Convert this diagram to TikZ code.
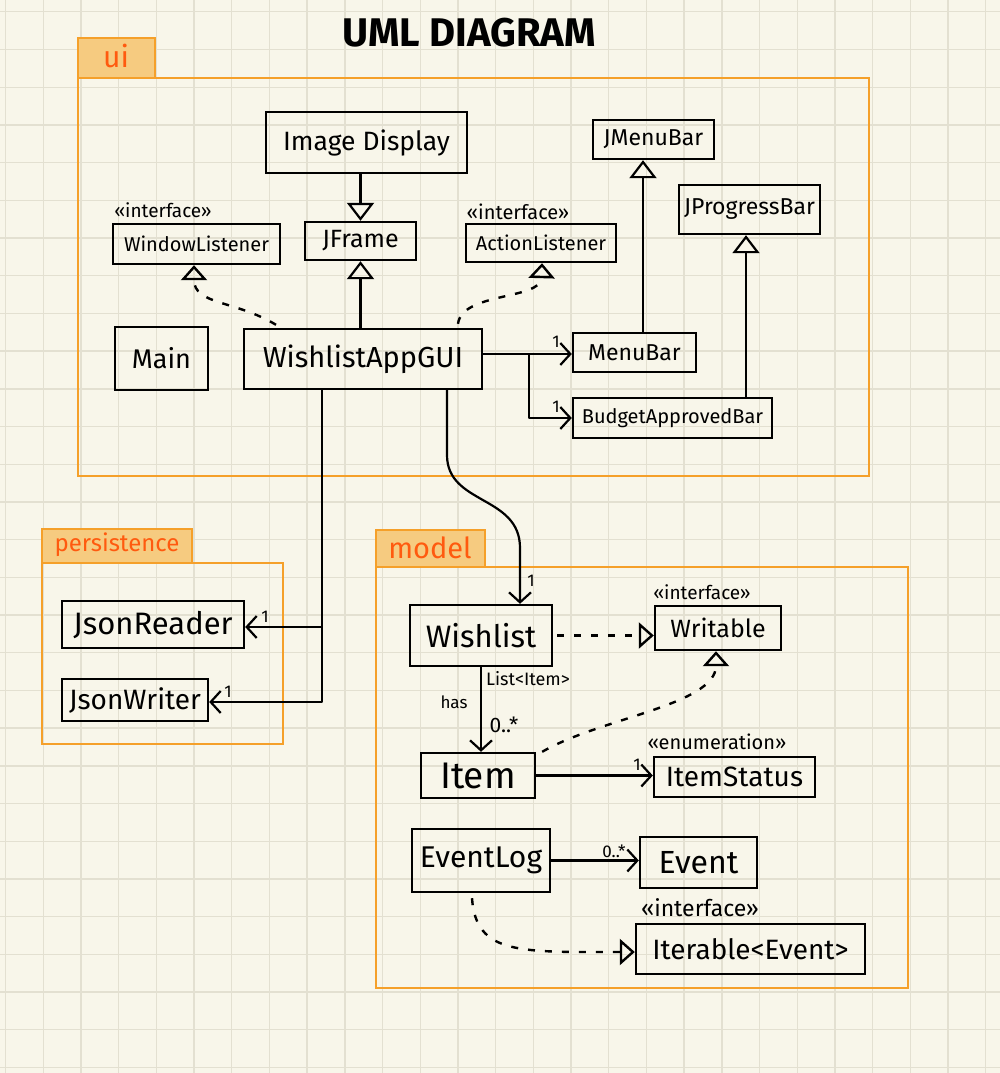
\documentclass[tikz,border=0pt]{standalone}
\usepackage{fontspec}
\setmainfont{Fira Sans}
\usetikzlibrary{arrows.meta}
\definecolor{bg}{HTML}{F8F6EA}
\definecolor{gridc}{HTML}{E3E0D1}
\definecolor{pkgline}{HTML}{F5A02A}
\definecolor{pkgfill}{HTML}{F6CB80}
\definecolor{pkgtext}{HTML}{FF5A0F}
\newcommand{\fsz}[1]{\fontsize{#1}{#1}\selectfont}
\begin{document}
\begin{tikzpicture}[x=1pt,y=-1pt,
  cls/.style={draw=black, line width=2.4pt, inner sep=0pt, align=center},
  gen/.style={line width=2.2pt, line join=round, -{Triangle[open,length=18pt,width=27pt]}},
  real/.style={line width=2.4pt, dash pattern=on 7pt off 10pt, -{Triangle[open,length=15pt,width=26pt]}},
  assoc/.style={line width=2.2pt, line join=round, -{Straight Barb[length=10pt,width=22pt]}},
  stereo/.style={inner sep=0pt},
  mult/.style={inner sep=0pt, font=\fsz{17}},
  pkg/.style={draw=pkgline, line width=2pt},
  tab/.style={draw=pkgline, fill=pkgfill, line width=2pt},
  pkglabel/.style={text=pkgtext, inner sep=0pt},
  gridline/.style={draw=gridc, line width=1.4pt}]
% background
\fill[bg] (0,0) rectangle (1000,1073);
\useasboundingbox (0,0) rectangle (1000,1073);
\foreach \i in {0,...,26} \draw[gridline] ({5.5+37.7*\i},0) -- ({5.5+37.7*\i},1073);
\foreach \j in {0,...,28} \draw[gridline] (0,{11.8+37.7*\j}) -- (1000,{11.8+37.7*\j});

% title
\node[font=\bfseries\fsz{40}] (title) at (469,33) {UML DIAGRAM};

% packages
\draw[tab] (78,38) rectangle (155,78);
\draw[pkg] (78,78) rectangle (869,476);
\node[pkglabel, font=\fsz{30}] (lui) at (116,56) {ui};
\draw[tab] (42,529) rectangle (192,563);
\draw[pkg] (42,563) rectangle (283,744);
\node[pkglabel, font=\fsz{24}] (lpers) at (117,545) {persistence};
\draw[tab] (376,530) rectangle (485,567);
\draw[pkg] (376,567) rectangle (908,988);
\node[pkglabel, font=\fsz{29}] (lmodel) at (430,548) {model};

% ui classes
\node[cls, minimum width=201, minimum height=61, font=\fsz{26.5}] (ImageDisplay) at (366.5,142.5) {Image Display};
\node[cls, minimum width=111, minimum height=38, font=\fsz{25}] (JFrame) at (360.5,241) {JFrame};
\node[cls, minimum width=167, minimum height=40, font=\fsz{20}] (WindowListener) at (196.5,244) {WindowListener};
\node[cls, minimum width=93, minimum height=63, font=\fsz{27}] (Main) at (161.5,358.5) {Main};
\node[cls, minimum width=238, minimum height=60, font=\fsz{29}] (GUI) at (363,359) {WishlistAppGUI};
\node[cls, minimum width=121, minimum height=39, font=\fsz{23}] (JMenuBar) at (653.5,139.5) {JMenuBar};
\node[cls, minimum width=141, minimum height=49, font=\fsz{23}] (JProgressBar) at (749.5,209.5) {JProgressBar};
\node[cls, minimum width=150, minimum height=38, font=\fsz{20}] (ActionListener) at (541,243) {ActionListener};
\node[cls, minimum width=123, minimum height=39, font=\fsz{23}] (MenuBar) at (634.5,352.5) {MenuBar};
\node[cls, minimum width=199, minimum height=40, font=\fsz{20}] (BAB) at (672.5,418) {BudgetApprovedBar};
\node[stereo, font=\fsz{19}] (stWL) at (163,210) {«interface»};
\node[stereo, font=\fsz{20}] (stAL) at (518,212) {«interface»};

% persistence classes
\node[cls, minimum width=182, minimum height=47, font=\fsz{31}] (JsonReader) at (153,624.5) {JsonReader};
\node[cls, minimum width=146, minimum height=42, font=\fsz{28}] (JsonWriter) at (135,700) {JsonWriter};

% model classes
\node[cls, minimum width=142, minimum height=61, font=\fsz{31}] (Wishlist) at (481,635.5) {Wishlist};
\node[cls, minimum width=126, minimum height=44, font=\fsz{25}] (Writable) at (718,628) {Writable};
\node[cls, minimum width=114, minimum height=45, font=\fsz{37}] (Item) at (478,775.5) {Item};
\node[cls, minimum width=161, minimum height=40, font=\fsz{28}] (ItemStatus) at (734.5,777) {ItemStatus};
\node[cls, minimum width=138, minimum height=63, font=\fsz{30}] (EventLog) at (481,860.5) {EventLog};
\node[cls, minimum width=117, minimum height=51, font=\fsz{32}] (Event) at (698.5,862.5) {Event};
\node[cls, minimum width=229, minimum height=50, font=\fsz{28}] (Iterable) at (750.5,949) {Iterable<Event>};
\node[stereo, font=\fsz{19}] (stWr) at (702,592) {«interface»};
\node[stereo, font=\fsz{20}] (stEn) at (717,742) {«enumeration»};
\node[stereo, font=\fsz{23}] (stIt) at (700,908) {«interface»};

% generalizations
\draw[gen] (ImageDisplay.south -| JFrame.north) -- (JFrame.north);
\draw[gen] (GUI.north -| JFrame.south) -- (JFrame.south);
\draw[gen] ([xshift=8.5]MenuBar.north) -- ([xshift=8.5]MenuBar.north |- JMenuBar.south);
\draw[gen] ([xshift=73.5]BAB.north) -- ([xshift=73.5]BAB.north |- JProgressBar.south);

% realizations
\draw[real] ([xshift=-87,yshift=3]GUI.north) .. controls (235,300) and (194,305) .. ([xshift=-2.5]WindowListener.south);
\draw[real] ([xshift=95,yshift=4]GUI.north) .. controls (462,292) and (541,300) .. ([xshift=1]ActionListener.south);
\draw[real] ([xshift=4]Wishlist.east) -- (Wishlist.east -| Writable.west);
\draw[real] ([xshift=6]Item.north east) .. controls (600,718) and (716,705) .. ([xshift=-2]Writable.south);
\draw[real] ([xshift=-9,yshift=-5]EventLog.south) .. controls (476,955) and (520,952) .. ([yshift=-3]Iterable.west);

% associations
\draw[assoc] ([yshift=5]GUI.east) -- ([yshift=5]GUI.east -| MenuBar.west);
\coordinate (br) at (529,354);
\draw[assoc] (br) |- (BAB.west);
\draw[assoc] ([xshift=84]GUI.south) -- (447,455) .. controls (447,505) and (520,495) .. (520,548) -- ([xshift=39]Wishlist.north);
\draw[assoc] ([xshift=-41]GUI.south) |- ([yshift=-2]JsonWriter.east);
\coordinate (jr) at (322,627);
\draw[assoc] (jr) -- (jr -| JsonReader.east);
\draw[assoc] (Wishlist.south) -- (Wishlist.south |- Item.north);
\draw[assoc] (Item.east) -- (Item.east -| ItemStatus.west);
\draw[assoc] (EventLog.east) -- (EventLog.east -| Event.west);

% multiplicities and labels
\node[mult] (m1) at (556,342) {1};
\node[mult] (m2) at (556,407) {1};
\node[mult] (m3) at (531,581) {1};
\node[mult] (m4) at (265,617) {1};
\node[mult] (m5) at (228,692) {1};
\node[mult] (m6) at (637,765) {1};
\node[mult, font=\fsz{18}] (lList) at (528,679) {List<Item>};
\node[mult, font=\fsz{17}] (lhas) at (454,702) {has};
\node[mult, font=\fsz{21}] (lm7) at (504,725) {0..*};
\node[mult, font=\fsz{17}] (lm8) at (614,851) {0..*};
\end{tikzpicture}
\end{document}
